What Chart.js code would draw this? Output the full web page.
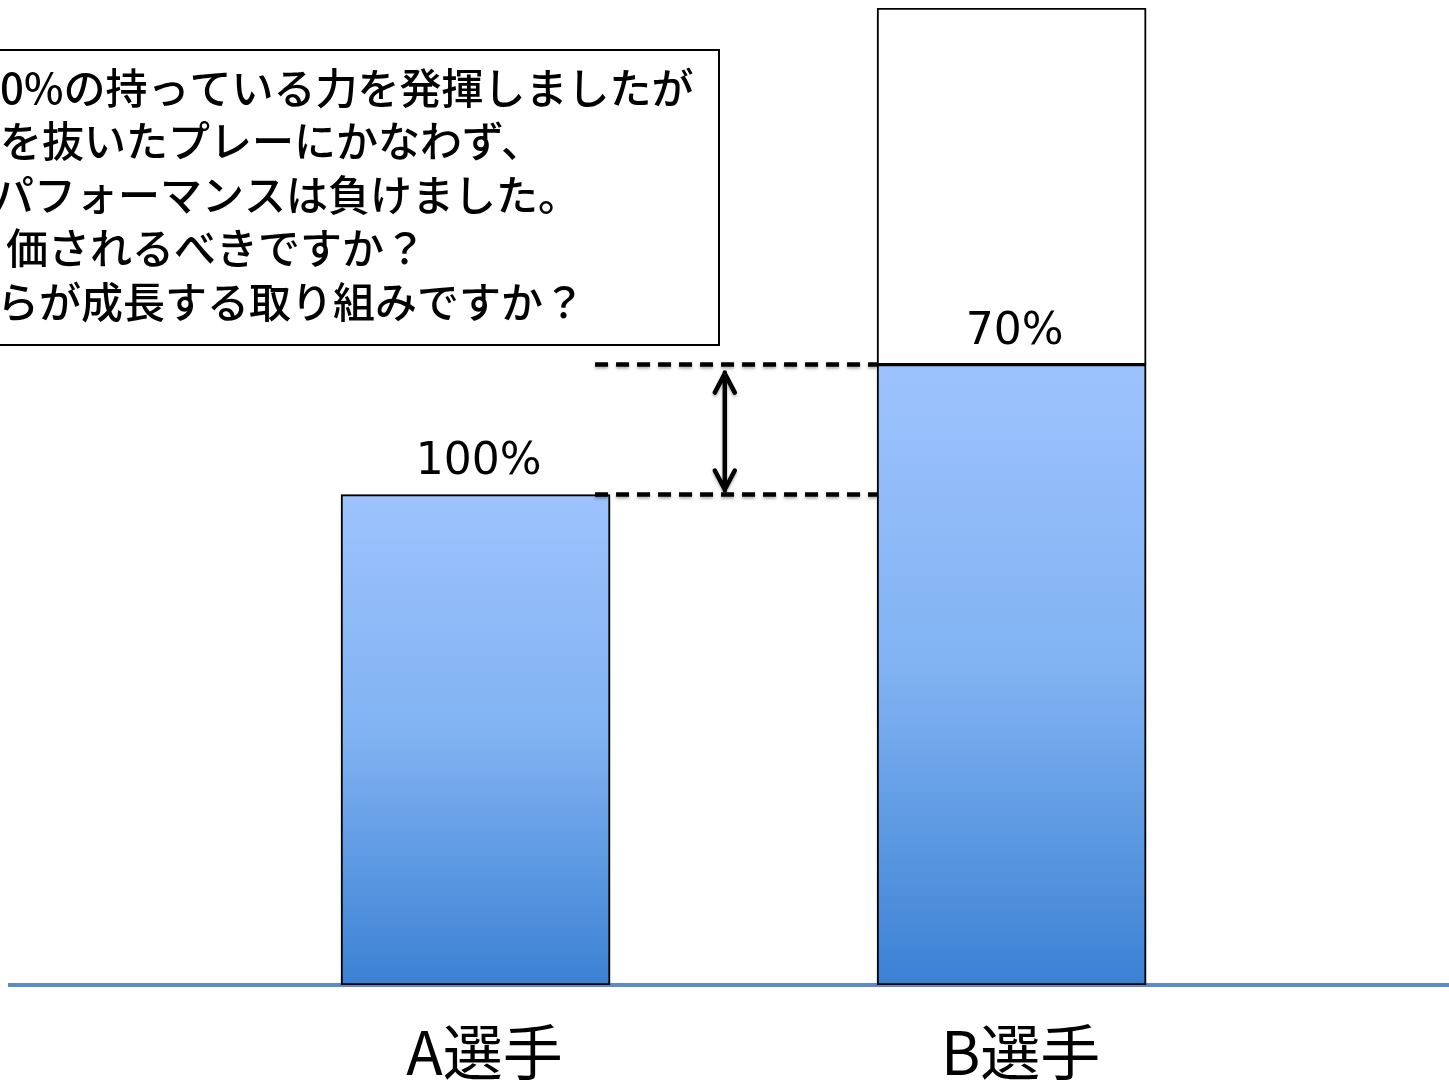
<!DOCTYPE html>
<html>
<head>
<meta charset="utf-8">
<script src="https://cdn.jsdelivr.net/npm/chart.js@4"></script>
<style>
  html, body { margin: 0; padding: 0; background: #fff; overflow: hidden; }
  canvas { display: block; }
</style>
</head>
<body>
<canvas id="effortChart" width="1449" height="1086"></canvas>
<script>
// players and bar heights (B's full capacity = 100)
const categories = ['A選手', 'B選手'];
const performance = [50.2, 63.5];
const capacity = [50.2, 100];
const percentLabels = ['100%', '70%'];

// text in the note box (left part is cut off in the original)
const noteLines = [
    '0%の持っている力を発揮しましたが',
    'を抜いたプレーにかなわず、',
    'パフォーマンスは負けました。',
    '価されるべきですか？',
    'らが成長する取り組みですか？'
];

document.addEventListener('DOMContentLoaded', function () {
    const ctx = document.getElementById('effortChart').getContext('2d');

    const blueFill = function (c) {
        const chart = c.chart;
        if (!c.parsed || !chart.chartArea) return '#7fb0f0';
        const y = chart.scales.y;
        const g = chart.ctx.createLinearGradient(0, y.getPixelForValue(c.parsed.y), 0, y.getPixelForValue(0));
        g.addColorStop(0, '#9dc3fd');
        g.addColorStop(0.5, '#80b2f2');
        g.addColorStop(1, '#3b81d3');
        return g;
    };

    // shadows for bars + percent labels, dashed guides and arrow
    const extras = {
        id: 'extras',
        beforeDatasetsDraw(chart) {
            const c = chart.ctx;
            c.save();
            c.shadowColor = 'rgba(0,0,0,0.35)';
            c.shadowBlur = 6;
            c.shadowOffsetY = 3;
        },
        afterDatasetsDraw(chart) {
            const c = chart.ctx;
            c.restore();
            const bars = chart.getDatasetMeta(0).data;
            const a = bars[0], b = bars[1];

            // percent labels
            c.save();
            c.fillStyle = '#000';
            c.font = '44px "DejaVu Sans", sans-serif';
            c.textAlign = 'center';
            c.textBaseline = 'middle';
            bars.forEach((el, i) => c.fillText(percentLabels[i], el.x + 3, el.y - 32));
            c.restore();

            // dashed guides
            const x0 = a.x + a.width / 2 - 15;
            const x1 = b.x - b.width / 2;
            c.save();
            c.strokeStyle = '#000';
            c.lineWidth = 4.5;
            c.setLineDash([13, 8]);
            c.shadowColor = 'rgba(0,0,0,0.3)';
            c.shadowBlur = 3;
            c.shadowOffsetY = 2;
            [b.y, a.y].forEach(yy => {
                c.beginPath();
                c.moveTo(x0, yy);
                c.lineTo(x1, yy);
                c.stroke();
            });

            // double arrow
            const ax = x0 + (x1 - x0) * 0.46;
            c.setLineDash([]);
            c.lineCap = 'round';
            c.lineJoin = 'round';
            c.beginPath();
            c.moveTo(ax, b.y + 8);
            c.lineTo(ax, a.y - 4);
            c.moveTo(ax - 10, b.y + 28);
            c.lineTo(ax, b.y + 9);
            c.lineTo(ax + 10, b.y + 28);
            c.moveTo(ax - 10, a.y - 24);
            c.lineTo(ax, a.y - 5);
            c.lineTo(ax + 10, a.y - 24);
            c.stroke();
            c.restore();
        },
        afterDraw(chart) {
            const c = chart.ctx;
            c.save();
            c.fillStyle = '#fff';
            c.fillRect(-10, 50, 729, 295);
            c.strokeStyle = '#000';
            c.lineWidth = 2;
            c.strokeRect(-10, 50, 729, 295);
            c.fillStyle = '#000';
            c.font = '500 42px "Noto Sans CJK JP", sans-serif';
            c.textBaseline = 'middle';
            const offsets = [0, 0, -8, 6, -3];
            noteLines.forEach((t, i) => c.fillText(t, offsets[i], 88 + i * 53.5));
            c.restore();
        }
    };

    new Chart(ctx, {
        type: 'bar',
        data: {
            datasets: [{
                label: 'performance',
                data: performance.map((v, i) => ({ x: i, y: v })),
                backgroundColor: blueFill,
                borderColor: '#000',
                borderWidth: 2,
                borderSkipped: false,
                barThickness: 269
            }, {
                label: 'unused',
                data: capacity.map((v, i) => ({ x: i, y: v - performance[i] })),
                backgroundColor: '#fff',
                borderColor: '#000',
                borderWidth: 2,
                borderSkipped: false,
                barThickness: 269
            }]
        },
        options: {
            responsive: false,
            animation: false,
            devicePixelRatio: 1,
            layout: { padding: { left: 10, top: 8, right: 0, bottom: -33 } },
            plugins: { legend: { display: false }, tooltip: { enabled: false } },
            scales: {
                x: {
                    type: 'linear',
                    stacked: true,
                    offset: false,
                    min: -0.8685,
                    max: 1.816,
                    grid: { display: false, drawTicks: false },
                    border: { display: true, color: '#5b8bc9', width: 4 },
                    afterBuildTicks: s => { s.ticks = categories.map((_, i) => ({ value: i })); },
                    ticks: {
                        autoSkip: false,
                        maxRotation: 0,
                        padding: 31,
                        labelOffset: 9,
                        color: '#000',
                        font: { family: '"Noto Sans CJK JP", sans-serif', size: 60 },
                        callback: v => categories[v] ?? ''
                    }
                },
                y: {
                    stacked: true,
                    display: false,
                    min: 0,
                    max: 100
                }
            }
        },
        plugins: [extras]
    });
});
</script>
</body>
</html>
